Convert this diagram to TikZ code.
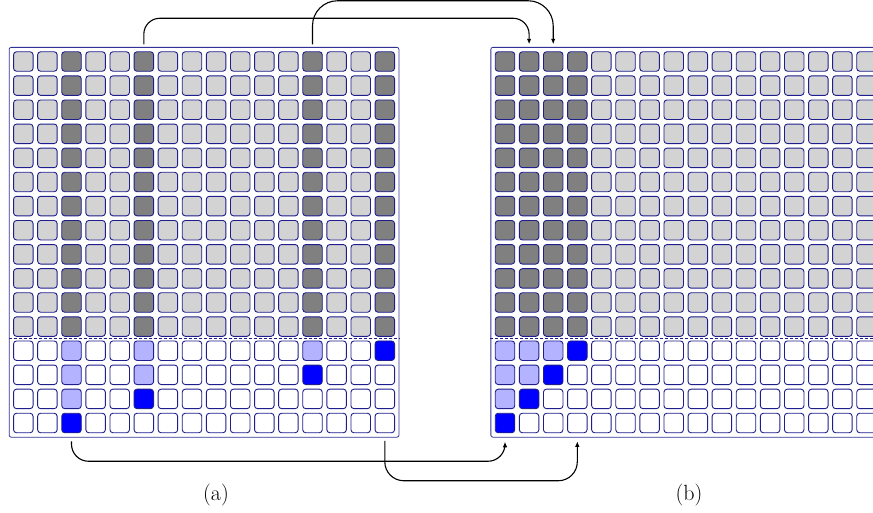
\documentclass[tikz,border=0pt]{standalone}
\usetikzlibrary{calc,fit,arrows.meta}
\definecolor{cc0}{RGB}{211,211,211}
\definecolor{cc1}{RGB}{128,128,128}
\definecolor{cc2}{RGB}{255,255,255}
\definecolor{cc3}{RGB}{179,179,255}
\definecolor{cc4}{RGB}{0,0,255}
\definecolor{cellline}{RGB}{30,30,140}
\definecolor{frameline}{RGB}{50,50,150}
\tikzset{
  cell/.style={rectangle, rounded corners=3pt, draw=cellline, line width=0.9pt,
    minimum size=19.5pt, inner sep=0pt, outer sep=0pt},
  gridframe/.style={rectangle, rounded corners=2pt, draw=frameline, line width=0.8pt, inner sep=4.4pt},
  sepline/.style={draw=cellline, line width=0.8pt, dash pattern=on 3pt off 2pt},
  conn/.style={draw=black, line width=1.1pt, -{Latex[length=5.5pt,width=4.5pt]}},
  lab/.style={font=\fontsize{22}{26}\selectfont, inner sep=0pt}
}
\begin{document}
\begin{tikzpicture}[x=1pt,y=-1pt]
\useasboundingbox (0,0) rectangle (873,512);
% left grid (a)
\foreach \c in {0,...,15}{
  \foreach \r in {0,...,15}{
    \pgfmathtruncatemacro\k{\c==2 ? 0 : (\c==5 ? 1 : (\c==12 ? 2 : (\c==15 ? 3 : -1)))}
    \pgfmathtruncatemacro\code{\r<12 ? (\k>-1 ? 1 : 0) : (\k<0 ? 2 : (\r==15-\k ? 4 : (\r<15-\k ? 3 : 2)))}
    \node[cell, fill=cc\code] (L-\c-\r) at ({23.3+24.1*\c},{61.5+24.1*\r}) {};
  }
}
% right grid (b)
\foreach \c in {0,...,15}{
  \foreach \r in {0,...,15}{
    \pgfmathtruncatemacro\k{\c<4 ? \c : -1}
    \pgfmathtruncatemacro\code{\r<12 ? (\k>-1 ? 1 : 0) : (\k<0 ? 2 : (\r==15-\k ? 4 : (\r<15-\k ? 3 : 2)))}
    \node[cell, fill=cc\code] (R-\c-\r) at ({505+24.1*\c},{61.5+24.1*\r}) {};
  }
}
\node[gridframe, fit=(L-0-0)(L-15-15)] (FL) {};
\node[gridframe, fit=(R-0-0)(R-15-15)] (FR) {};
\coordinate (Lmid) at ($(L-0-11)!0.5!(L-0-12)$);
\coordinate (Rmid) at ($(R-0-11)!0.5!(R-0-12)$);
\draw[sepline] (FL.west |- Lmid) -- (FL.east |- Lmid);
\draw[sepline] (FR.west |- Rmid) -- (FR.east |- Rmid);
% connectors
\coordinate (a1s) at ($(L-5-0.north)+(0,-7.5)$);
\coordinate (a1e) at ($(R-1-0.north)+(0,-7.5)$);
\coordinate (a2s) at ($(L-12-0.north)+(0,-7.5)$);
\coordinate (a2e) at ($(R-2-0.north)+(0,-7.5)$);
\coordinate (a3s) at ($(L-2-15.south)+(0,8.5)$);
\coordinate (a3e) at ($(R-0-15.south)+(0,9)$);
\coordinate (a4s) at ($(L-15-15.south)+(0,8)$);
\coordinate (a4e) at ($(R-3-15.south)+(0,8.5)$);
\draw[conn, rounded corners=16pt] (a1s) -- ++(0,-26) -| (a1e);
\draw[conn, rounded corners=25pt] (a2s) -- ++(0,-43.5) -| (a2e);
\draw[conn, rounded corners=17pt] (a3s) -- ++(0,20) -| (a3e);
\draw[conn, rounded corners=19pt] (a4s) -- ++(0,40) -| (a4e);
% labels
\node[lab] (la) at (216,495) {(a)};
\node[lab] (lb) at (689,495) {(b)};
\end{tikzpicture}
\end{document}
